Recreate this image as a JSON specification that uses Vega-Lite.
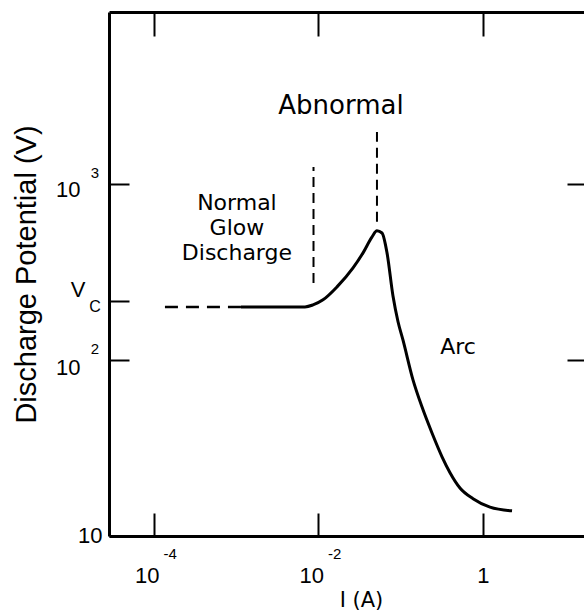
{
  "$schema": "https://vega.github.io/schema/vega-lite/v6.json",
  "width": 475,
  "height": 524,
  "autosize": {"type": "none"},
  "padding": {"left": 109, "top": 12, "right": 0, "bottom": 77},
  "background": "white",
  "config": {
    "view": {"stroke": null},
    "axis": {"grid": false, "domainColor": "black", "tickColor": "black", "labelColor": "black", "titleColor": "black", "domainWidth": 3, "tickWidth": 2}
  },
  "datasets": {
    "curve": [
      {"I": 0.001143, "V": 200.4},
      {"I": 0.00685, "V": 200.4},
      {"I": 0.00857, "V": 205.6},
      {"I": 0.01135, "V": 219.8},
      {"I": 0.01679, "V": 260.4},
      {"I": 0.0263, "V": 333.9},
      {"I": 0.0348, "V": 406.4},
      {"I": 0.0448, "V": 501.2},
      {"I": 0.0514, "V": 542},
      {"I": 0.0592, "V": 527},
      {"I": 0.0681, "V": 406.4},
      {"I": 0.0805, "V": 231},
      {"I": 0.0927, "V": 165},
      {"I": 0.1064, "V": 130},
      {"I": 0.1409, "V": 77.1},
      {"I": 0.1811, "V": 54.2},
      {"I": 0.2399, "V": 38.5},
      {"I": 0.3177, "V": 28.2},
      {"I": 0.3972, "V": 22.9},
      {"I": 0.5248, "V": 18.75},
      {"I": 0.7568, "V": 16.3},
      {"I": 1.216, "V": 14.6},
      {"I": 2.254, "V": 13.9}
    ],
    "dashseg": [
      {"I": 0.000136, "V": 200.4},
      {"I": 0.001143, "V": 200.4}
    ],
    "vlines": [
      {"I": 0.0087, "V": 274, "V2": 1251},
      {"I": 0.0514, "V": 610, "V2": 1977}
    ],
    "regions": [
      {"I": 0.0188, "V": 2780, "label": "Abnormal"}
    ],
    "normal": [
      {"I": 0.00102, "V": 781, "label": "Normal\nGlow\nDischarge"}
    ],
    "arc": [
      {"I": 0.497, "V": 119, "label": "Arc"}
    ],
    "xexp": [
      {"I": 0.0001, "t": "-4"},
      {"I": 0.01, "t": "-2"}
    ],
    "yexp": [
      {"V": 1000, "t": "3"},
      {"V": 100, "t": "2"}
    ],
    "sub": [
      {"V": 217, "t": "C"}
    ]
  },
  "resolve": {"axis": {"x": "independent", "y": "independent"}},
  "layer": [
    {
      "data": {"name": "curve"},
      "mark": {"type": "line", "interpolate": "monotone", "stroke": "black", "strokeWidth": 3},
      "encoding": {
        "x": {
          "field": "I", "type": "quantitative",
          "scale": {"type": "log", "domain": [2.84e-5, 16.9], "nice": false},
          "axis": {
            "orient": "bottom", "values": [0.0001, 0.01, 1], "tickSize": -23,
            "labelExpr": "datum.value >= 0.5 ? '1' : '10'",
            "labelFont": "Liberation Sans", "labelFontSize": 22, "labelPadding": 62, "labelBaseline": "middle",
            "labelAlign": {"condition": {"test": "datum.value >= 0.5", "value": "center"}, "value": "right"},
            "labelOffset": {"condition": {"test": "datum.value >= 0.5", "value": 0}, "value": 5},
            "labelFlush": false, "labelOverlap": false, "labelBound": false,
            "title": "I (A)", "titleFont": "DejaVu Sans", "titleFontSize": 21, "titleFontWeight": "normal",
            "titleX": 252, "titlePadding": 3
          }
        },
        "y": {
          "field": "V", "type": "quantitative",
          "scale": {"type": "log", "domain": [10, 9500], "nice": false},
          "axis": {
            "orient": "left", "values": [10, 100, 217, 1000], "tickSize": -20,
            "labelExpr": "datum.value > 200 && datum.value < 300 ? 'V' : '10'",
            "labelFont": "Liberation Sans", "labelFontSize": 22,
            "labelPadding": {"condition": [
              {"test": "datum.value == 10", "value": 27},
              {"test": "datum.value > 200 && datum.value < 300", "value": 44}
            ], "value": 49},
            "labelOffset": {"condition": [
              {"test": "datum.value == 1000", "value": 5},
              {"test": "datum.value == 100", "value": 7},
              {"test": "datum.value == 10", "value": -1}
            ], "value": -11},
            "labelAlign": "right", "labelBaseline": "middle",
            "labelFlush": false, "labelOverlap": false, "labelBound": false,
            "title": "Discharge Potential (V)", "titleFont": "Liberation Sans", "titleFontSize": 29,
            "titleFontWeight": "normal", "titlePadding": 14
          }
        }
      }
    },
    {
      "data": {"name": "dashseg"},
      "mark": {"type": "line", "stroke": "black", "strokeWidth": 2.5, "strokeDash": [13, 8]},
      "encoding": {
        "x": {
          "field": "I", "type": "quantitative",
          "scale": {"type": "log", "domain": [2.84e-5, 16.9], "nice": false},
          "axis": {"orient": "top", "values": [0.0001, 0.01, 1], "tickSize": -24, "labels": false, "title": null}
        },
        "y": {
          "field": "V", "type": "quantitative",
          "scale": {"type": "log", "domain": [10, 9500], "nice": false},
          "axis": {"orient": "right", "values": [100, 1000], "tickSize": -17, "labels": false, "domain": false, "title": null}
        }
      }
    },
    {
      "data": {"name": "vlines"},
      "mark": {"type": "rule", "stroke": "black", "strokeWidth": 2, "strokeDash": [10, 6]},
      "encoding": {
        "x": {"field": "I", "type": "quantitative", "scale": {"type": "log", "domain": [2.84e-5, 16.9], "nice": false}, "axis": null},
        "y": {"field": "V", "type": "quantitative", "scale": {"type": "log", "domain": [10, 9500], "nice": false}, "axis": null},
        "y2": {"field": "V2"}
      }
    },
    {
      "data": {"name": "regions"},
      "mark": {"type": "text", "font": "DejaVu Sans", "fontSize": 26, "align": "center", "baseline": "middle", "color": "black"},
      "encoding": {
        "x": {"field": "I", "type": "quantitative", "scale": {"type": "log", "domain": [2.84e-5, 16.9], "nice": false}, "axis": null},
        "y": {"field": "V", "type": "quantitative", "scale": {"type": "log", "domain": [10, 9500], "nice": false}, "axis": null},
        "text": {"field": "label", "type": "nominal"}
      }
    },
    {
      "data": {"name": "normal"},
      "mark": {"type": "text", "font": "DejaVu Sans", "fontSize": 22, "align": "center", "baseline": "middle", "lineBreak": "\n", "lineHeight": 25, "color": "black"},
      "encoding": {
        "x": {"field": "I", "type": "quantitative", "scale": {"type": "log", "domain": [2.84e-5, 16.9], "nice": false}, "axis": null},
        "y": {"field": "V", "type": "quantitative", "scale": {"type": "log", "domain": [10, 9500], "nice": false}, "axis": null},
        "text": {"field": "label", "type": "nominal"}
      }
    },
    {
      "data": {"name": "arc"},
      "mark": {"type": "text", "font": "DejaVu Sans", "fontSize": 22, "align": "center", "baseline": "middle", "color": "black"},
      "encoding": {
        "x": {"field": "I", "type": "quantitative", "scale": {"type": "log", "domain": [2.84e-5, 16.9], "nice": false}, "axis": null},
        "y": {"field": "V", "type": "quantitative", "scale": {"type": "log", "domain": [10, 9500], "nice": false}, "axis": null},
        "text": {"field": "label", "type": "nominal"}
      }
    },
    {
      "data": {"name": "xexp"},
      "mark": {"type": "text", "font": "Liberation Sans", "fontSize": 15, "align": "left", "baseline": "middle", "dx": 9.5, "dy": 18, "color": "black"},
      "encoding": {
        "x": {"field": "I", "type": "quantitative", "scale": {"type": "log", "domain": [2.84e-5, 16.9], "nice": false}, "axis": null},
        "y": {"datum": 10, "type": "quantitative", "scale": {"type": "log", "domain": [10, 9500], "nice": false}, "axis": null},
        "text": {"field": "t", "type": "nominal"}
      }
    },
    {
      "data": {"name": "yexp"},
      "mark": {"type": "text", "font": "Liberation Sans", "fontSize": 15, "align": "center", "baseline": "middle", "dx": -14, "dy": -11, "color": "black"},
      "encoding": {
        "x": {"datum": 2.84e-5, "type": "quantitative", "scale": {"type": "log", "domain": [2.84e-5, 16.9], "nice": false}, "axis": null},
        "y": {"field": "V", "type": "quantitative", "scale": {"type": "log", "domain": [10, 9500], "nice": false}, "axis": null},
        "text": {"field": "t", "type": "nominal"}
      }
    },
    {
      "data": {"name": "sub"},
      "mark": {"type": "text", "font": "Liberation Sans", "fontSize": 16, "align": "center", "baseline": "middle", "dx": -14, "dy": 6, "color": "black"},
      "encoding": {
        "x": {"datum": 2.84e-5, "type": "quantitative", "scale": {"type": "log", "domain": [2.84e-5, 16.9], "nice": false}, "axis": null},
        "y": {"field": "V", "type": "quantitative", "scale": {"type": "log", "domain": [10, 9500], "nice": false}, "axis": null},
        "text": {"field": "t", "type": "nominal"}
      }
    }
  ]
}
